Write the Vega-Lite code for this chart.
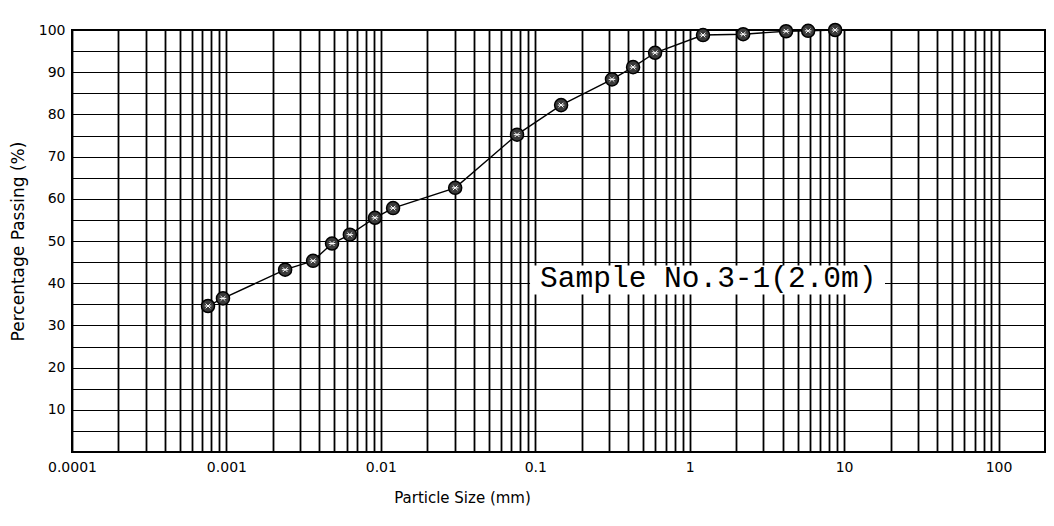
{
  "$schema": "https://vega.github.io/schema/vega-lite/v6.json",
  "width": 973,
  "height": 422,
  "autosize": {"type": "none"},
  "padding": {"left": 72, "top": 30, "right": 9, "bottom": 74},
  "background": "white",
  "config": {
    "view": {"stroke": "black", "strokeWidth": 2},
    "axis": {"labelFont": "DejaVu Sans", "titleFont": "DejaVu Sans", "labelColor": "black", "titleColor": "black", "titleFontWeight": "normal"}
  },
  "datasets": {
    "pts": [
      {"size": 0.00076, "pass": 34.6},
      {"size": 0.00095, "pass": 36.4},
      {"size": 0.0024, "pass": 43.2},
      {"size": 0.00364, "pass": 45.3},
      {"size": 0.00483, "pass": 49.4},
      {"size": 0.0063, "pass": 51.5},
      {"size": 0.00916, "pass": 55.5},
      {"size": 0.012, "pass": 57.8},
      {"size": 0.0303, "pass": 62.6},
      {"size": 0.0762, "pass": 75.2},
      {"size": 0.147, "pass": 82.2},
      {"size": 0.314, "pass": 88.3},
      {"size": 0.43, "pass": 91.2},
      {"size": 0.597, "pass": 94.6},
      {"size": 1.22, "pass": 98.8},
      {"size": 2.22, "pass": 99.0},
      {"size": 4.21, "pass": 99.7},
      {"size": 5.85, "pass": 99.8},
      {"size": 8.75, "pass": 100}
    ],
    "note": [
      {"x1": 0.0925, "x2": 18.4, "y1": 37.3, "y2": 44.2, "tx": 1.32, "ty": 41.2, "label": "Sample No.3-1(2.0m)"}
    ]
  },
  "layer": [
    {
      "data": {"name": "note"},
      "mark": {"type": "rect", "fill": "white"},
      "encoding": {
        "x": {"field": "x1", "type": "quantitative", "title": "Particle Size (mm)",
          "scale": {"type": "log", "domain": [0.0001, 200], "nice": false},
          "axis": {
            "values": [0.0001,0.0002,0.0003,0.0004,0.0005,0.0006,0.0007,0.0008,0.0009,
                       0.001,0.002,0.003,0.004,0.005,0.006,0.007,0.008,0.009,
                       0.01,0.02,0.03,0.04,0.05,0.06,0.07,0.08,0.09,
                       0.1,0.2,0.3,0.4,0.5,0.6,0.7,0.8,0.9,
                       1,2,3,4,5,6,7,8,9,
                       10,20,30,40,50,60,70,80,90,100],
            "format": "~g",
            "labelExpr": "indexof([0.0001,0.001,0.01,0.1,1,10,100], datum.value) >= 0 ? datum.label : ''",
            "grid": true, "gridColor": "black", "gridWidth": 1.8, "gridOpacity": 1,
            "ticks": false, "domain": false,
            "labelFontSize": 14, "labelPadding": 8, "labelFlush": false,
            "titleFontSize": 15, "titleX": 390, "titleY": 45, "titleBaseline": "middle", "titleAlign": "center"
          }
        },
        "x2": {"field": "x2"},
        "y": {"field": "y1", "type": "quantitative", "title": "Percentage Passing (%)",
          "scale": {"domain": [0, 100], "nice": false, "zero": false},
          "axis": {
            "tickCount": 20,
            "labelExpr": "(datum.value % 10 == 0 && datum.value > 0) ? datum.label : ''",
            "labelOverlap": false,
            "grid": true, "gridColor": "black", "gridWidth": 1.2, "gridOpacity": 1,
            "ticks": false, "domain": false,
            "labelFontSize": 14, "labelPadding": 7,
            "titleFontSize": 17, "titleX": -54, "titleY": 211, "titleBaseline": "middle", "titleAlign": "center", "titleAngle": -90
          }
        },
        "y2": {"field": "y2"}
      }
    },
    {
      "data": {"name": "note"},
      "mark": {"type": "text", "font": "Liberation Mono", "fontSize": 29.5, "color": "black", "align": "center", "baseline": "middle"},
      "encoding": {
        "x": {"field": "tx", "type": "quantitative", "title": "Particle Size (mm)", "scale": {"type": "log", "domain": [0.0001, 200], "nice": false}},
        "y": {"field": "ty", "type": "quantitative", "title": "Percentage Passing (%)", "scale": {"domain": [0, 100], "nice": false, "zero": false}},
        "text": {"field": "label"}
      }
    },
    {
      "data": {"name": "pts"},
      "mark": {"type": "line", "color": "black", "strokeWidth": 1.4},
      "encoding": {
        "x": {"field": "size", "type": "quantitative", "title": "Particle Size (mm)", "scale": {"type": "log", "domain": [0.0001, 200], "nice": false}},
        "y": {"field": "pass", "type": "quantitative", "title": "Percentage Passing (%)", "scale": {"domain": [0, 100], "nice": false, "zero": false}}
      }
    },
    {
      "data": {"name": "pts"},
      "mark": {"type": "point", "shape": "circle", "filled": true, "size": 170, "fill": "#3a3a3a", "stroke": "black", "strokeWidth": 1.5, "opacity": 1},
      "encoding": {
        "x": {"field": "size", "type": "quantitative", "title": "Particle Size (mm)", "scale": {"type": "log", "domain": [0.0001, 200], "nice": false}},
        "y": {"field": "pass", "type": "quantitative", "title": "Percentage Passing (%)", "scale": {"domain": [0, 100], "nice": false, "zero": false}}
      }
    },
    {
      "data": {"name": "pts"},
      "mark": {"type": "point", "shape": "M-0.5,-0.5L0.5,0.5M-0.5,0.5L0.5,-0.5M-0.7,0L0.7,0", "filled": false, "size": 90, "stroke": "white", "strokeWidth": 1, "opacity": 1},
      "encoding": {
        "x": {"field": "size", "type": "quantitative", "title": "Particle Size (mm)", "scale": {"type": "log", "domain": [0.0001, 200], "nice": false}},
        "y": {"field": "pass", "type": "quantitative", "title": "Percentage Passing (%)", "scale": {"domain": [0, 100], "nice": false, "zero": false}}
      }
    }
  ]
}
